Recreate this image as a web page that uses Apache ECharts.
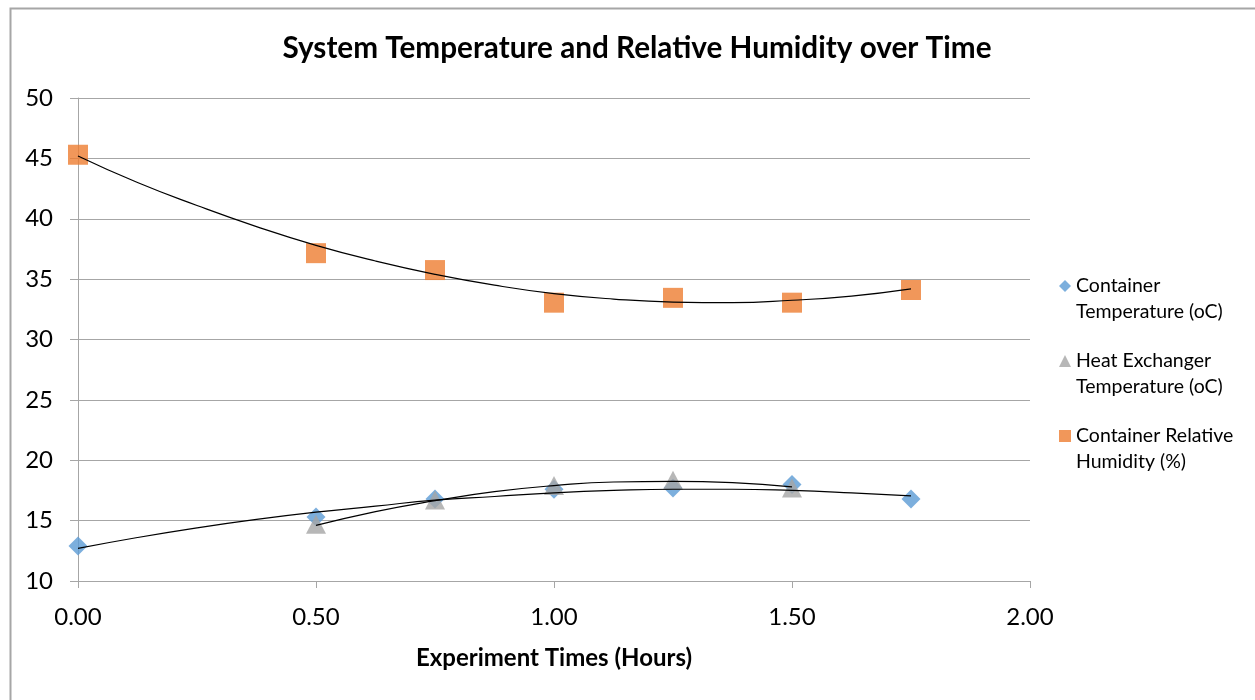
<!DOCTYPE html>
<html><head><meta charset="utf-8">
<script src="https://cdn.jsdelivr.net/npm/echarts@6/dist/echarts.min.js"></script>
<style>html,body{margin:0;padding:0;background:#fff}#c{width:1255px;height:700px}</style>
</head><body><div id="c"></div>
<script>
// Measured data
const hours = [0, 0.5, 0.75, 1.0, 1.25, 1.5, 1.75];
const containerTemp = [12.9, 15.3, 16.8, 17.6, 17.7, 18.0, 16.8];
const hxHours = [0.5, 0.75, 1.0, 1.25, 1.5];
const hxTemp = [14.7, 16.7, 17.9, 18.35, 17.7];
const humidity = [45.3, 37.15, 35.75, 33.05, 33.45, 33.05, 34.1];
// Trendlines
const trendHours = [0, 0.125, 0.25, 0.375, 0.5, 0.625, 0.75, 0.875, 1.0, 1.125, 1.25, 1.375, 1.5, 1.625, 1.75];
const containerTrend = [12.7, 13.6, 14.4, 15.1, 15.7, 16.2, 16.7, 17.0, 17.3, 17.5, 17.6, 17.6, 17.5, 17.3, 17.05];
const hxTrendHours = [0.5, 0.625, 0.75, 0.875, 1.0, 1.125, 1.25, 1.375, 1.5];
const hxTrend = [14.6, 15.75, 16.65, 17.4, 17.9, 18.2, 18.25, 18.15, 17.8];
const humidityTrend = [45.2, 43.0, 41.1, 39.35, 37.8, 36.5, 35.4, 34.5, 33.8, 33.35, 33.1, 33.05, 33.25, 33.6, 34.2];
const seriesNames = ['Container\nTemperature (oC)', 'Heat Exchanger\nTemperature (oC)', 'Container Relative\nHumidity (%)'];

const pairs = (xs, ys) => xs.map((x, i) => [x, ys[i]]);
const FONT = 'Lato';
const gridGray = '#A6A6A6';

const chart = echarts.init(document.getElementById('c'), null, {renderer: 'canvas'});
chart.setOption({
  backgroundColor: '#fff',
  animation: false,
  title: {
    text: 'System Temperature and Relative Humidity over Time',
    left: 632, top: 28, textAlign: 'center',
    textStyle: {fontFamily: FONT, fontWeight: 'bold', fontSize: 29.7, color: '#000'}
  },
  graphic: [{
    type: 'rect', left: 8, top: 6, silent: true,
    shape: {width: 1300, height: 760},
    style: {fill: 'none', stroke: '#A6A6A6', lineWidth: 2}
  }],
  grid: {left: 78, right: 225, top: 98, bottom: 119, containLabel: false},
  legend: {
    orient: 'vertical', left: 1054, top: 242,
    itemWidth: 12, itemHeight: 12, itemGap: -3,
    data: seriesNames,
    formatter: name => ' \n' + name,
    textStyle: {fontFamily: FONT, fontSize: 19.5, color: '#000', lineHeight: 26}
  },
  xAxis: {
    type: 'value', min: 0, max: 2, interval: 0.5,
    name: 'Experiment Times (Hours)', nameLocation: 'middle', nameGap: 65,
    nameTextStyle: {fontFamily: FONT, fontWeight: 'bold', fontSize: 24, color: '#000'},
    axisLine: {show: true, lineStyle: {color: gridGray, width: 1}},
    axisTick: {show: true, length: 7, lineStyle: {color: gridGray}},
    axisLabel: {fontFamily: FONT, fontSize: 24, color: '#000', margin: 24, formatter: v => v.toFixed(2)},
    splitLine: {show: false}
  },
  yAxis: {
    type: 'value', min: 10, max: 50, interval: 5,
    axisLine: {show: true, lineStyle: {color: gridGray, width: 1}},
    axisTick: {show: true, length: 8, lineStyle: {color: gridGray}},
    axisLabel: {fontFamily: FONT, fontSize: 24, color: '#000', margin: 25},
    splitLine: {show: true, lineStyle: {color: gridGray, width: 1}}
  },
  series: [
    {name: seriesNames[0], type: 'scatter', symbol: 'diamond', symbolSize: 19, z: 3,
     itemStyle: {color: '#5B9BD5'}, data: pairs(hours, containerTemp)},
    {name: seriesNames[1], type: 'scatter', symbol: 'triangle', symbolSize: [20, 19], z: 4,
     itemStyle: {color: '#A5A5A5'}, data: pairs(hxHours, hxTemp)},
    {name: seriesNames[2], type: 'scatter', symbol: 'rect', symbolSize: 20, z: 3,
     itemStyle: {color: '#ED7D31'}, data: pairs(hours, humidity)},
    {name: 'trend1', type: 'line', smooth: true, showSymbol: false, symbol: 'none', z: 5,
     lineStyle: {color: '#000', width: 1.2}, data: pairs(trendHours, containerTrend)},
    {name: 'trend2', type: 'line', smooth: true, showSymbol: false, symbol: 'none', z: 5,
     lineStyle: {color: '#000', width: 1.2}, data: pairs(hxTrendHours, hxTrend)},
    {name: 'trend3', type: 'line', smooth: true, showSymbol: false, symbol: 'none', z: 5,
     lineStyle: {color: '#000', width: 1.2}, data: pairs(trendHours, humidityTrend)}
  ]
});
</script></body></html>
